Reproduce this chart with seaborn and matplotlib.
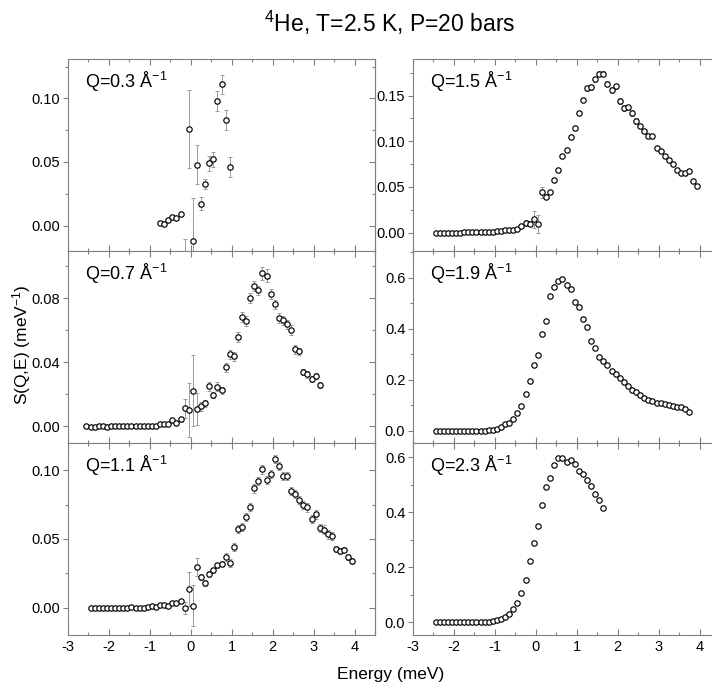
import numpy as np
import pandas as pd
import matplotlib
matplotlib.use("Agg")
import matplotlib.pyplot as plt
import seaborn as sns
from matplotlib.ticker import MultipleLocator, FormatStrFormatter

# ---------------- data ----------------
# Q = 0.3 A^-1
e_q03 = [-0.75, -0.65, -0.55, -0.45, -0.35, -0.25, -0.15, -0.05, 0.05, 0.15, 0.25,
         0.35, 0.45, 0.55, 0.65, 0.75, 0.85, 0.95]
s_q03 = [0.0024, 0.0013, 0.0045, 0.0065, 0.0060, 0.0094, -0.045, 0.076, -0.0125, 0.048,
         0.0173, 0.0325, 0.049, 0.052, 0.098, 0.111, 0.083, 0.046]
d_q03 = [0.001, 0.001, 0.001, 0.001, 0.001, 0.0015, 0.0345, 0.031, 0.034, 0.015,
         0.005, 0.004, 0.006, 0.006, 0.0078, 0.0075, 0.008, 0.008]

# Q = 0.7 A^-1
e_q07 = [-2.55, -2.45, -2.35, -2.25, -2.15, -2.05, -1.95, -1.85, -1.75, -1.65, -1.55,
         -1.45, -1.35, -1.25, -1.15, -1.05, -0.95, -0.85, -0.75, -0.65, -0.55, -0.45,
         -0.35, -0.25, -0.15, -0.05, 0.05, 0.15, 0.25, 0.35, 0.45, 0.55, 0.65, 0.75,
         0.85, 0.95, 1.05, 1.15, 1.25, 1.35, 1.45, 1.55, 1.65, 1.75, 1.85, 1.95, 2.05,
         2.15, 2.25, 2.35, 2.45, 2.55, 2.65, 2.75, 2.85, 2.95, 3.05, 3.15]
s_q07 = [0.0002, -0.0003, -0.0002, 0.0, 0.0, -0.0002, 0.0, 0.0, 0.0002, 0.0, 0.0,
         0.0, 0.0002, 0.0, 0.0, 0.0, 0.0002, 0.0003, 0.0013, 0.0017, 0.0017, 0.0037,
         0.0023, 0.0044, 0.0112, 0.0104, 0.0223, 0.0106, 0.0125, 0.0144, 0.025, 0.0196,
         0.0248, 0.0225, 0.0369, 0.045, 0.0437, 0.0558, 0.0683, 0.066, 0.0802, 0.0877,
         0.085, 0.0956, 0.0942, 0.0829, 0.0762, 0.0679, 0.0662, 0.0637, 0.0604, 0.0481,
         0.0469, 0.034, 0.0325, 0.0296, 0.0313, 0.0258]
d_q07 = [0.0003] * 18 + [0.0005, 0.0006, 0.0007, 0.0009, 0.0012, 0.0015, 0.006, 0.017,
         0.022, 0.010, 0.003, 0.002, 0.003, 0.002, 0.003, 0.002, 0.003, 0.003, 0.003,
         0.003, 0.003, 0.003, 0.003, 0.003, 0.003, 0.004, 0.004, 0.003, 0.003, 0.003,
         0.003, 0.003, 0.003, 0.003, 0.002, 0.002, 0.002, 0.002, 0.002, 0.002]

# Q = 1.1 A^-1
e_q11 = [round(-2.45 + 0.1 * k, 2) for k in range(65)]
s_q11 = [-0.0002, 0.0, 0.0, 0.0, 0.0, 0.0, 0.0, 0.0, 0.0, 0.0, 0.0002, 0.0, -0.0002,
         -0.0005, 0.0005, 0.001, 0.0007, 0.0017, 0.0017, 0.0015, 0.0034, 0.0036, 0.0046,
         -0.0005, 0.0136, 0.0012, 0.0297, 0.0224, 0.0178, 0.0246, 0.0272, 0.0307, 0.0321,
         0.0367, 0.0326, 0.0443, 0.0572, 0.0589, 0.0659, 0.0732, 0.0869, 0.0922, 0.1007,
         0.0932, 0.0976, 0.1083, 0.1034, 0.0959, 0.0961, 0.0849, 0.083, 0.0783, 0.0747,
         0.073, 0.0645, 0.0679, 0.0582, 0.0569, 0.0533, 0.0521, 0.0428, 0.0414, 0.0423,
         0.0367, 0.0338]
d_q11 = [0.0004] * 20 + [0.0008, 0.001, 0.0012, 0.0045, 0.0125, 0.015, 0.0065, 0.002,
         0.002, 0.002, 0.002, 0.002, 0.002, 0.003, 0.003, 0.003, 0.003, 0.003, 0.003,
         0.003, 0.003, 0.003, 0.003, 0.003, 0.003, 0.003, 0.003, 0.003, 0.003, 0.003,
         0.003, 0.003, 0.003, 0.003, 0.003, 0.003, 0.003, 0.003, 0.003, 0.003, 0.002,
         0.002, 0.002, 0.002, 0.002]

# Q = 1.5 A^-1
e_q15 = [round(-2.45 + 0.1 * k, 2) for k in range(65)]
s_q15 = [0.0, 0.0, 0.0, 0.0, 0.0, 0.0, 0.0, 0.0003, 0.0003, 0.0005, 0.0005, 0.0007,
         0.0008, 0.001, 0.0012, 0.0015, 0.002, 0.0025, 0.003, 0.0035, 0.004, 0.007,
         0.0106, 0.0099, 0.0146, 0.0095, 0.044, 0.0395, 0.045, 0.0574, 0.0684, 0.0841,
         0.091, 0.105, 0.115, 0.131, 0.145, 0.158, 0.159, 0.1676, 0.174, 0.174, 0.163,
         0.156, 0.160, 0.1438, 0.1365, 0.137, 0.131, 0.122, 0.1164, 0.111, 0.1057,
         0.1054, 0.0926, 0.0893, 0.0834, 0.0798, 0.0754, 0.0688, 0.0651, 0.0651, 0.068,
         0.0563, 0.0516]
d_q15 = [0.0005] * 20 + [0.001, 0.0015, 0.003, 0.003, 0.009, 0.010, 0.006, 0.003,
         0.002, 0.002, 0.002, 0.002, 0.002, 0.002, 0.002, 0.002, 0.002, 0.003, 0.003,
         0.003, 0.003, 0.003, 0.003, 0.003, 0.003, 0.003, 0.003, 0.003, 0.003, 0.003,
         0.002, 0.002, 0.002, 0.002, 0.002, 0.002, 0.002, 0.002, 0.002, 0.002, 0.002,
         0.002, 0.002, 0.002, 0.002]

# Q = 1.9 A^-1
e_q19 = [round(-2.45 + 0.1 * k, 2) for k in range(63)]
s_q19 = [0.0, 0.0, 0.0, 0.0, 0.0, 0.0, 0.0, 0.0, 0.0, 0.0, 0.0, 0.0, 0.001, 0.002,
         0.004, 0.008, 0.014, 0.025, 0.031, 0.048, 0.069, 0.097, 0.144, 0.197, 0.259,
         0.297, 0.379, 0.431, 0.527, 0.563, 0.588, 0.595, 0.571, 0.557, 0.506, 0.485,
         0.438, 0.405, 0.353, 0.324, 0.289, 0.273, 0.256, 0.234, 0.221, 0.205, 0.193,
         0.175, 0.158, 0.153, 0.139, 0.128, 0.122, 0.115, 0.110, 0.107, 0.106, 0.102,
         0.098, 0.095, 0.0915, 0.085, 0.072]

# Q = 2.3 A^-1
e_q23 = [round(-2.45 + 0.1 * k, 2) for k in range(42)]
s_q23 = [0.0, 0.0, 0.0, 0.0, 0.0, 0.0, 0.0, 0.0, 0.0, 0.0, 0.0, 0.0, 0.001, 0.002,
         0.004, 0.007, 0.012, 0.0195, 0.032, 0.050, 0.072, 0.107, 0.154, 0.223, 0.290,
         0.349, 0.427, 0.491, 0.523, 0.572, 0.598, 0.599, 0.583, 0.591, 0.574, 0.552,
         0.541, 0.516, 0.494, 0.467, 0.446, 0.416]

panel_labels = ["Q=0.3 Å$^{-1}$", "Q=1.5 Å$^{-1}$", "Q=0.7 Å$^{-1}$",
                "Q=1.9 Å$^{-1}$", "Q=1.1 Å$^{-1}$", "Q=2.3 Å$^{-1}$"]
x_ticks = [-3, -2, -1, 0, 1, 2, 3, 4]

# ---------------- style ----------------
sns.set_style("ticks")
plt.rcParams["font.family"] = ["Liberation Sans", "DejaVu Sans"]
plt.rcParams["mathtext.fontset"] = "custom"
plt.rcParams["mathtext.rm"] = "Liberation Sans"
plt.rcParams["mathtext.it"] = "Liberation Sans:italic"
plt.rcParams["mathtext.default"] = "regular"
plt.rcParams["axes.unicode_minus"] = False
plt.rcParams["text.color"] = "black"
plt.rcParams["axes.labelcolor"] = "black"
plt.rcParams["xtick.labelcolor"] = "black"
plt.rcParams["ytick.labelcolor"] = "black"

SPINE = "#808080"

fig = plt.figure(figsize=(7.12, 6.91), dpi=100)
W, H = 712.0, 691.0
lefts = [68 / W, 413 / W]
aw = 307 / W
tops = [59, 251, 443]
ah = 192 / H

panels = [
    (e_q03, s_q03, d_q03, (-0.02, 0.131), 0.05, 0.025, "%.2f"),
    (e_q15, s_q15, d_q15, (-0.02, 0.19), 0.05, 0.025, "%.2f"),
    (e_q07, s_q07, d_q07, (-0.0104, 0.1096), 0.04, 0.02, "%.2f"),
    (e_q19, s_q19, None, (-0.048, 0.705), 0.2, 0.1, "%.1f"),
    (e_q11, s_q11, d_q11, (-0.020, 0.120), 0.05, 0.025, "%.2f"),
    (e_q23, s_q23, None, (-0.046, 0.652), 0.2, 0.1, "%.1f"),
]

for i, (ex, sy, dy, ylim, maj, mnr, fmt) in enumerate(panels):
    row, col = divmod(i, 2)
    ax = fig.add_axes([lefts[col], (H - tops[row] - 192) / H, aw, ah])
    df = pd.DataFrame({"E": ex, "S": sy})
    if dy is not None:
        ax.errorbar(ex, sy, yerr=dy, fmt="none", ecolor="#9a9a9a", elinewidth=0.7,
                    capsize=1.6, capthick=0.7, zorder=1)
    sns.scatterplot(data=df, x="E", y="S", ax=ax, marker="o", s=15,
                    facecolor="white", edgecolor="black", linewidth=0.85, zorder=3,
                    legend=False)
    ax.set_xlim(-3, 4.5)
    ax.set_ylim(*ylim)
    ax.set_xlabel("")
    ax.set_ylabel("")
    ax.xaxis.set_major_locator(MultipleLocator(1))
    ax.xaxis.set_minor_locator(MultipleLocator(0.5))
    ax.yaxis.set_major_locator(MultipleLocator(maj))
    ax.yaxis.set_minor_locator(MultipleLocator(mnr))
    ax.yaxis.set_major_formatter(FormatStrFormatter(fmt))
    for sp in ax.spines.values():
        sp.set_visible(True)
        sp.set_color(SPINE)
        sp.set_linewidth(0.8)
    ax.tick_params(axis="x", which="both", direction="in", top=True, bottom=True,
                   colors=SPINE, labelcolor="black", labelsize=10.5, width=0.8)
    ax.tick_params(axis="x", which="major", length=4)
    ax.tick_params(axis="x", which="minor", length=2)
    ax.tick_params(axis="y", which="both", direction="out", left=True, right=False,
                   colors=SPINE, labelcolor="black", labelsize=10.5, width=0.8, pad=2)
    ax.tick_params(axis="y", which="major", length=3.5)
    ax.tick_params(axis="y", which="minor", length=2)
    sec = ax.secondary_yaxis("right")
    sec.yaxis.set_major_locator(MultipleLocator(maj))
    sec.yaxis.set_minor_locator(MultipleLocator(mnr))
    sec.tick_params(axis="y", which="both", direction="in", colors=SPINE,
                    labelright=False, width=0.8)
    sec.tick_params(axis="y", which="major", length=4)
    sec.tick_params(axis="y", which="minor", length=2)
    sec.spines["right"].set_color(SPINE)
    sec.spines["right"].set_linewidth(0.8)
    if row == 2:
        ax.set_xticks(x_ticks)
        ax.set_xticklabels([str(t) for t in x_ticks])
    else:
        ax.tick_params(axis="x", labelbottom=False)
    ax.text(0.055, 0.85, panel_labels[i], transform=ax.transAxes, fontsize=13,
            ha="left", va="baseline", color="black")

fig.text(390 / W, 1 - 23 / H, "$^{4}$He, T=2.5 K, P=20 bars", ha="center",
         va="center", fontsize=16.5, color="black")
fig.text(391 / W, 1 - 675 / H, "Energy (meV)", ha="center", va="center",
         fontsize=12.5, color="black")
fig.text(22 / W, 1 - 345 / H, "S(Q,E) (meV$^{-1}$)", ha="center", va="center",
         rotation=90, fontsize=12.5, color="black")

fig.savefig("out.png", dpi=100)
